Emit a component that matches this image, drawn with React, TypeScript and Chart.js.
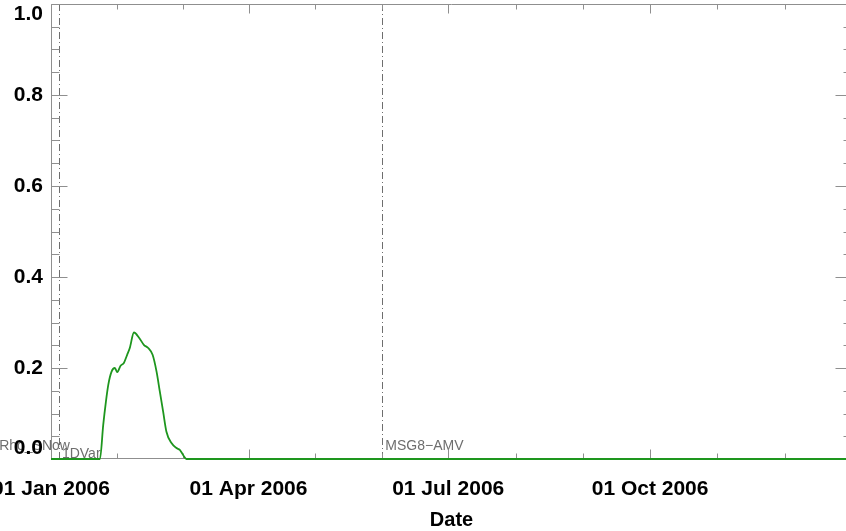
import { useEffect, useRef } from "react";
import { Chart, registerables } from "chart.js";

Chart.register(...registerables);

// Days since 01 Jan 2006 and the plotted fraction
const obsDays = [0, 22.3, 23.8, 25.0, 26.1, 27.6, 29.1, 30.2, 31.7, 33.2, 34.7, 35.9, 37.8, 40.2, 42.3, 44.3, 46.3, 48.1, 49.6, 51.1, 52.6, 54.9, 57.2, 58.7, 60.2, 61.7, 365];
const obsValues = [0, 0, 0.075, 0.125, 0.163, 0.192, 0.2, 0.191, 0.205, 0.211, 0.229, 0.244, 0.278, 0.266, 0.251, 0.244, 0.229, 0.192, 0.148, 0.104, 0.06, 0.035, 0.024, 0.02, 0.009, 0, 0];

const majorDays = [0, 90, 181, 273, 365];
const majorLabels = ["01 Jan 2006", "01 Apr 2006", "01 Jul 2006", "01 Oct 2006", ""];
const yTickValues = [0, 0.2, 0.4, 0.6, 0.8, 1.0];
const yMinorStep = 0.05;

const eventDays = [-25, 3.6, 151];
const eventNames = ["Rho_SNow", "1DVar", "MSG8\u2212AMV"];
const eventRows = [1, 0, 1];

const FONT = '"Liberation Sans", Arial, Helvetica, sans-serif';
const FRAME = "#8f8f8f";
const EVENT = "#6e6e6e";

const idlPlugin = {
  id: "idlFrame",
  beforeDraw(chart: any) {
    const { ctx, chartArea: a, scales } = chart;
    const xs = scales.x;
    ctx.save();
    ctx.strokeStyle = EVENT;
    ctx.lineWidth = 1;
    ctx.setLineDash([7, 3, 1, 3]);
    eventDays.forEach((d) => {
      const px = Math.round(xs.getPixelForValue(d)) + 0.5;
      if (px >= a.left && px <= a.right) {
        ctx.beginPath();
        ctx.moveTo(px, a.top);
        ctx.lineTo(px, a.bottom);
        ctx.stroke();
      }
    });
    ctx.setLineDash([]);
    ctx.fillStyle = EVENT;
    ctx.font = `14px ${FONT}`;
    ctx.textBaseline = "middle";
    ctx.textAlign = "left";
    eventDays.forEach((d, i) => {
      const px = xs.getPixelForValue(d);
      const py = a.bottom - 5 - eventRows[i] * 8;
      ctx.fillText(eventNames[i], px + 3, py);
    });
    ctx.restore();
  },
  beforeDatasetsDraw(chart: any) {
    const { ctx, chartArea: a, scales } = chart;
    const xs = scales.x;
    const ys = scales.y;
    ctx.save();
    ctx.strokeStyle = FRAME;
    ctx.lineWidth = 1;
    const L = Math.round(a.left) + 0.5;
    const R = Math.round(a.right) - 0.5;
    const T = Math.round(a.top) + 0.5;
    const B = Math.round(a.bottom) - 0.5;
    ctx.beginPath();
    ctx.rect(L, T, R - L, B - T);
    ctx.stroke();
    // y ticks (left and right)
    const nY = Math.round(1 / yMinorStep);
    for (let i = 0; i <= nY; i++) {
      const v = i * yMinorStep;
      const len = i % 4 === 0 ? 16 : 8;
      const py = Math.round(ys.getPixelForValue(v)) + 0.5;
      ctx.beginPath();
      ctx.moveTo(L, py);
      ctx.lineTo(L + len, py);
      ctx.moveTo(R, py);
      ctx.lineTo(R - len, py);
      ctx.stroke();
    }
    // x ticks (bottom and top)
    const drawX = (px: number, len: number) => {
      const x = Math.round(px) + 0.5;
      ctx.beginPath();
      ctx.moveTo(x, B);
      ctx.lineTo(x, B - len);
      ctx.moveTo(x, T);
      ctx.lineTo(x, T + len);
      ctx.stroke();
    };
    for (let i = 0; i < majorDays.length; i++) {
      const p0 = xs.getPixelForValue(majorDays[i]);
      drawX(p0, 9);
      if (i < majorDays.length - 1) {
        const p1 = xs.getPixelForValue(majorDays[i + 1]);
        drawX(p0 + (p1 - p0) / 3, 5);
        drawX(p0 + (2 * (p1 - p0)) / 3, 5);
      }
    }
    ctx.restore();
  },
};

export default function App() {
  const ref = useRef<HTMLCanvasElement>(null);
  useEffect(() => {
    const labelFont = { family: FONT, size: 21, weight: "bold" as const, lineHeight: 1 };
    const chart = new Chart(ref.current!, {
      type: "line",
      data: {
        datasets: [
          {
            data: obsDays.map((d, i) => ({ x: d, y: obsValues[i] })),
            borderColor: "#1e961e",
            borderWidth: 1.8,
            pointRadius: 0,
            cubicInterpolationMode: "monotone",
            fill: false,
            clip: 5,
          } as any,
        ],
      },
      options: {
        animation: false,
        responsive: false,
        devicePixelRatio: 1,
        layout: { padding: { top: 4, right: 8, left: 0, bottom: 0 } },
        plugins: { legend: { display: false }, tooltip: { enabled: false } },
        scales: {
          x: {
            type: "linear",
            min: 0,
            max: 365,
            afterBuildTicks: (s: any) => {
              s.ticks = majorDays.map((v) => ({ value: v }));
            },
            afterFit: (s: any) => {
              s.height = 72;
              s.paddingLeft = 0;
              s.paddingRight = 0;
            },
            ticks: {
              autoSkip: false,
              maxRotation: 0,
              minRotation: 0,
              padding: 20,
              color: "#000",
              font: labelFont,
              callback: (v: any) => {
                const i = majorDays.indexOf(Number(v));
                return i >= 0 ? majorLabels[i] : "";
              },
            },
            grid: { display: false, drawTicks: false },
            border: { display: false },
            title: {
              display: true,
              text: "Date",
              color: "#000",
              font: { family: FONT, size: 20, weight: "bold", lineHeight: 1 },
              padding: { top: 0, bottom: 1 },
            },
          },
          y: {
            type: "linear",
            min: 0,
            max: 1,
            afterBuildTicks: (s: any) => {
              s.ticks = yTickValues.map((v) => ({ value: v }));
            },
            afterFit: (s: any) => {
              s.width = 51;
              s.paddingTop = 0;
              s.paddingBottom = 0;
            },
            ticks: {
              padding: 8,
              color: "#000",
              font: labelFont,
              callback: (v: any) => {
                const n = Number(v);
                if (n === 1) return ["", "1.0"];
                if (n === 0) return ["0.0", ""];
                return n.toFixed(1);
              },
            },
            grid: { display: false, drawTicks: false },
            border: { display: false },
          },
        },
      },
      plugins: [idlPlugin],
    });
    return () => chart.destroy();
  }, []);
  return (
    <div
      style={{
        position: "fixed",
        left: 0,
        top: 0,
        width: 846,
        height: 531,
        overflow: "hidden",
        background: "#fff",
      }}
    >
      <canvas ref={ref} width={860} height={531} style={{ display: "block", width: 860, height: 531 }} />
    </div>
  );
}
